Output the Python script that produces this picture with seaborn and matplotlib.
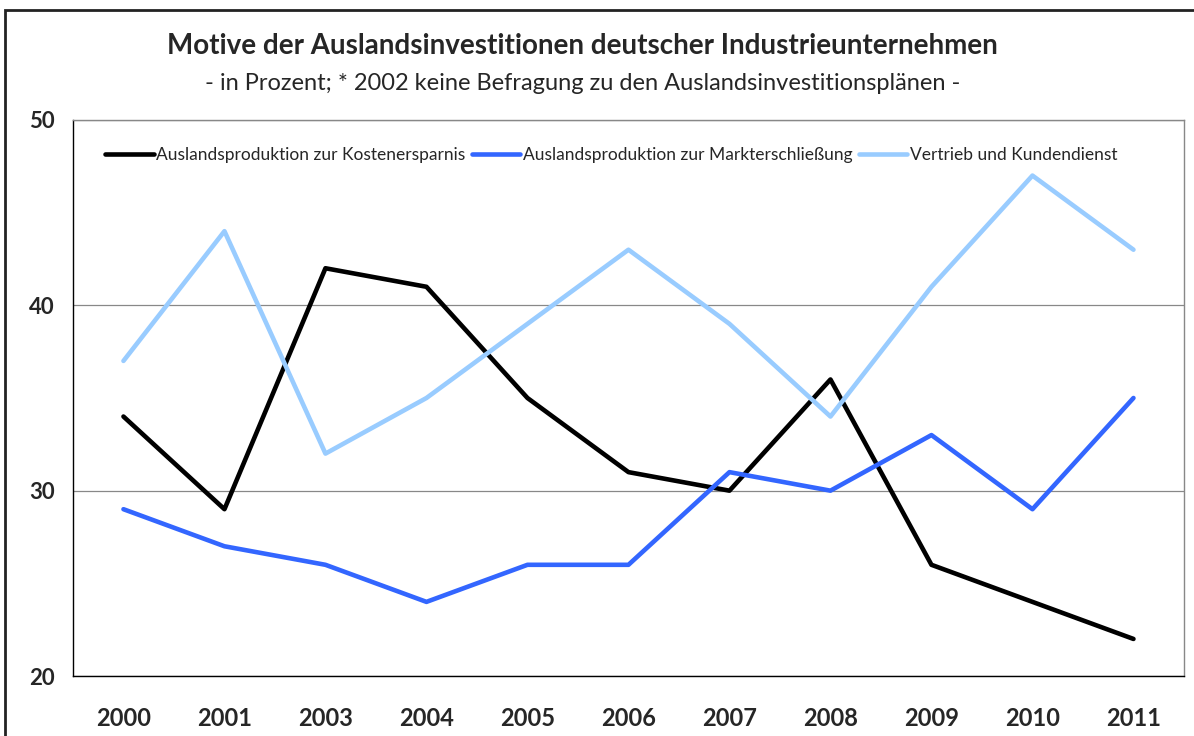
import pandas as pd
import matplotlib.pyplot as plt
import seaborn as sns
from matplotlib.patches import Rectangle

years = ['2000', '2001', '2003', '2004', '2005', '2006', '2007', '2008', '2009', '2010', '2011']
kosten = [34, 29, 42, 41, 35, 31, 30, 36, 26, 24, 22]
markt = [29, 27, 26, 24, 26, 26, 31, 30, 33, 29, 35]
vertrieb = [37, 44, 32, 35, 39, 43, 39, 34, 41, 47, 43]
series_names = ['Auslandsproduktion zur Kostenersparnis',
                'Auslandsproduktion zur Markterschließung',
                'Vertrieb und Kundendienst']
colors = ['#000000', '#3366FF', '#99CCFF']

df = pd.DataFrame({'Jahr': years * 3,
                   'Wert': kosten + markt + vertrieb,
                   'Serie': [series_names[0]] * 11 + [series_names[1]] * 11 + [series_names[2]] * 11})

sns.set_style('white')
plt.rcParams['font.family'] = ['Lato', 'DejaVu Sans']

fig = plt.figure(figsize=(11.94, 7.36), dpi=100)
ax = fig.add_axes([0.0611, 0.0815, 0.9305, 0.7555])

sns.lineplot(data=df, x='Jahr', y='Wert', hue='Serie', palette=colors,
             linewidth=3.3, sort=False, ax=ax)

# outer frame of the chart
fig.patches.append(Rectangle((5 / 1194, -0.05), 1.1, 1.05 - 10 / 736, transform=fig.transFigure,
                             fill=False, edgecolor='#222222', linewidth=2))

ax.set_xlim(-0.5, 10.5)
ax.set_ylim(20, 50)
ax.set_yticks([20, 30, 40, 50])
ax.set_xticks(range(len(years)))
ax.set_xticklabels(years, fontsize=17, fontweight='bold')
ax.set_xticks([i - 0.5 for i in range(len(years) + 1)], minor=True)
ax.tick_params(axis='x', which='major', length=0, pad=22)
ax.tick_params(axis='x', which='minor', length=9, width=1, color='black', direction='out')
ax.tick_params(axis='y', length=7, width=1, color='black', direction='out', labelsize=16, pad=6)
for lbl in ax.get_yticklabels():
    lbl.set_fontweight('bold')
ax.set_xlabel('')
ax.set_ylabel('')

ax.yaxis.grid(True, color='#888888', linewidth=0.9)
ax.set_axisbelow(True)
ax.spines['left'].set_color('black')
ax.spines['bottom'].set_color('black')
ax.spines['top'].set_color('#888888')
ax.spines['right'].set_color('#888888')
for s in ax.spines.values():
    s.set_linewidth(1)

ax.legend(loc='upper left', bbox_to_anchor=(0.015, 0.98), ncol=3, frameon=False,
          fontsize=12.5, handlelength=2.8, handletextpad=0.15, columnspacing=0.35)

fig.text(0.488, 0.938, 'Motive der Auslandsinvestitionen deutscher Industrieunternehmen',
         ha='center', va='center', fontsize=20, fontweight='bold')
fig.text(0.488, 0.887, '- in Prozent; * 2002 keine Befragung zu den Auslandsinvestitionsplänen -',
         ha='center', va='center', fontsize=17)

fig.savefig('out.png', dpi=100)
